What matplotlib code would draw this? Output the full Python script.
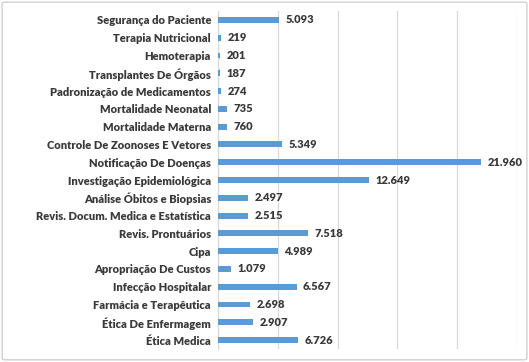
import matplotlib.pyplot as plt
from matplotlib.patches import FancyBboxPatch

plt.rcParams['font.family'] = ['Lato', 'DejaVu Sans']

categorias = ['Segurança do Paciente', 'Terapia Nutricional', 'Hemoterapia',
              'Transplantes De Órgãos', 'Padronização de Medicamentos',
              'Mortalidade Neonatal', 'Mortalidade Materna',
              'Controle De Zoonoses E Vetores', 'Notificação De Doenças',
              'Investigação Epidemiológica', 'Análise Óbitos e Biopsias',
              'Revis. Docum. Medica e Estatística', 'Revis. Prontuários', 'Cipa',
              'Apropriação De Custos', 'Infecção Hospitalar',
              'Farmácia e Terapêutica', 'Ética De Enfermagem', 'Ética Medica']
valores = [5093, 219, 201, 187, 274, 735, 760, 5349, 21960, 12649, 2497,
           2515, 7518, 4989, 1079, 6567, 2698, 2907, 6726]

azul = '#5B9BD5'
texto = '#3A3A3A'

fig = plt.figure(figsize=(5.29, 3.62), dpi=100)
ax = fig.add_axes([218 / 529, 1 - 349 / 362, (517 - 218) / 529, (349 - 11) / 362])

y = list(range(len(categorias)))
ax.barh(y, valores, height=0.33, color=azul, zorder=3)
ax.set_ylim(len(categorias) - 0.5, -0.5)
ax.set_xlim(0, 25000)

for yi, v in zip(y, valores):
    rotulo = f'{v:,}'.replace(',', '.')
    ax.text(v + 550, yi, rotulo, va='center', ha='left', fontsize=8,
            fontweight='heavy', color=texto)

ax.set_yticks(y)
ax.set_yticklabels(categorias, fontsize=8, fontweight='heavy', color=texto)
ax.tick_params(axis='y', length=0, pad=5)
ax.set_xticks([0, 5000, 10000, 15000, 20000, 25000])
ax.tick_params(axis='x', length=0, labelbottom=False)
ax.grid(axis='x', color='#D9D9D9', linewidth=0.9, zorder=0)
for s in ['top', 'right', 'bottom']:
    ax.spines[s].set_visible(False)
ax.spines['left'].set_color('#D9D9D9')
ax.spines['left'].set_linewidth(0.9)

borda = FancyBboxPatch((0.004, 0.006), 0.992, 0.988, transform=fig.transFigure,
                       boxstyle='round,pad=0,rounding_size=0.005',
                       facecolor='none', edgecolor='#D0D0D0', linewidth=1)
fig.patches.append(borda)

fig.savefig('out.png', dpi=100, facecolor='white')
